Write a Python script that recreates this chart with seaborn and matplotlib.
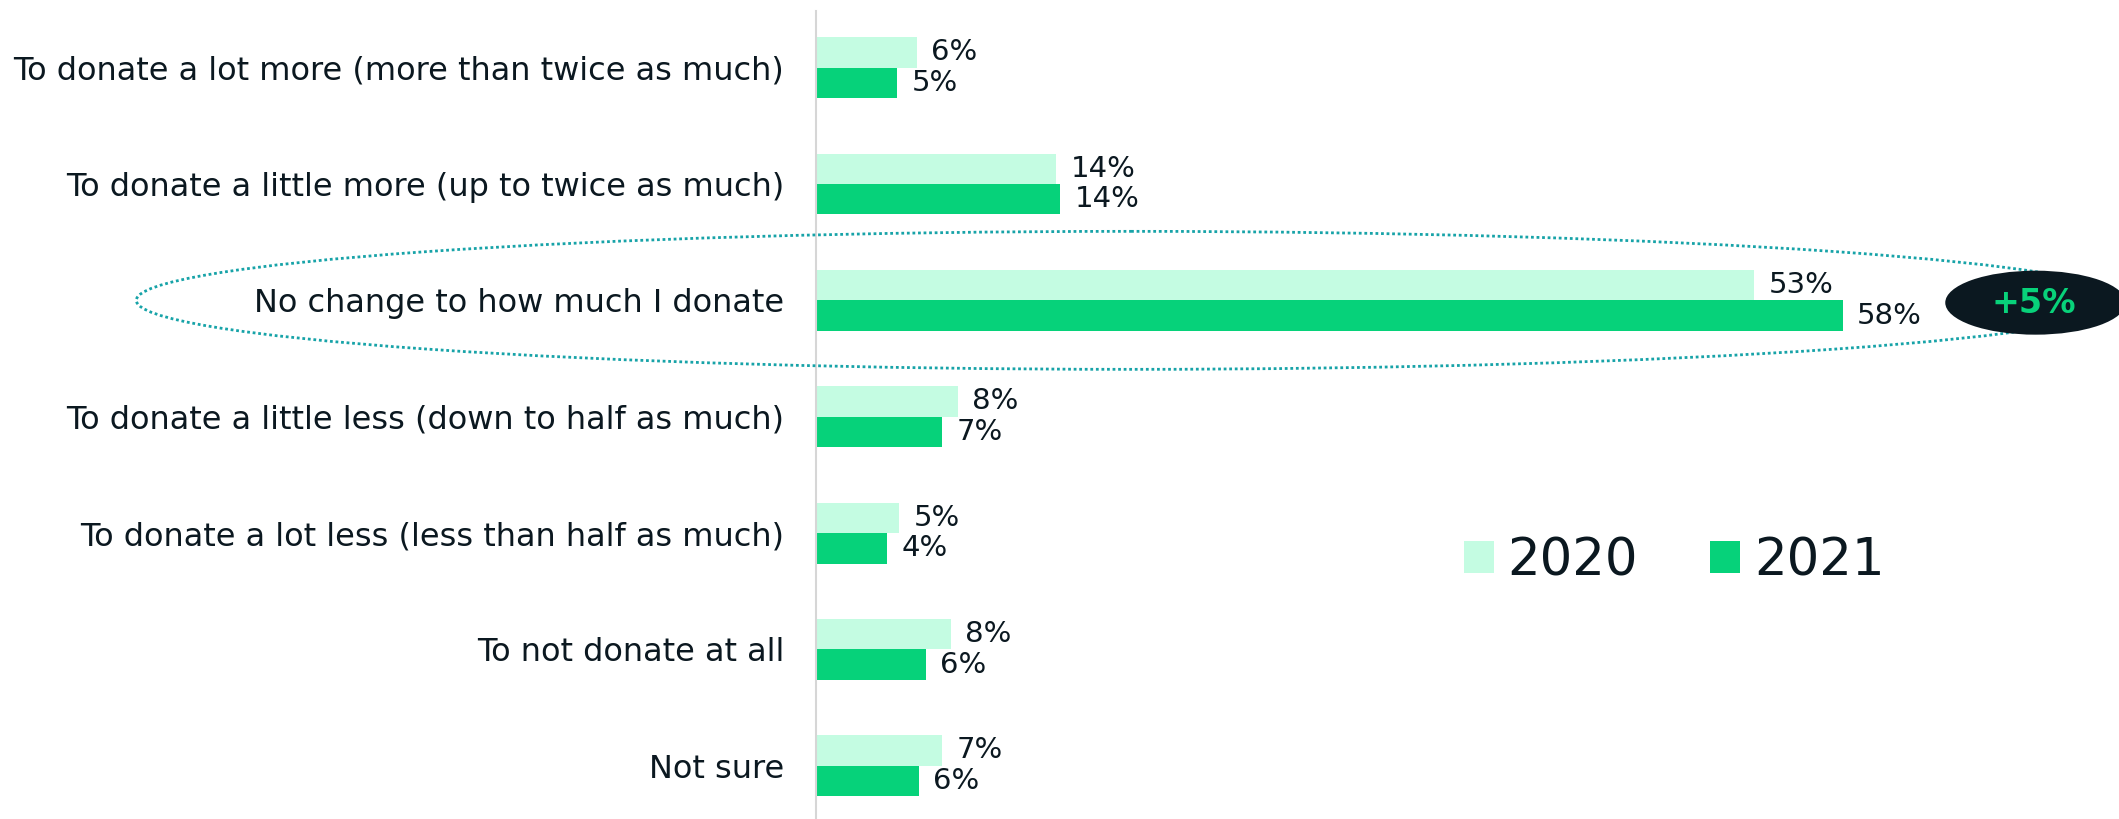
import matplotlib
matplotlib.use("Agg")
import matplotlib.pyplot as plt
from matplotlib.patches import Ellipse
import seaborn as sns
import pandas as pd

categories = [
    "To donate a lot more (more than twice as much)",
    "To donate a little more (up to twice as much)",
    "No change to how much I donate",
    "To donate a little less (down to half as much)",
    "To donate a lot less (less than half as much)",
    "To not donate at all",
    "Not sure",
]
values_2020 = [5.7, 13.55, 53.0, 8.0, 4.7, 7.6, 7.1]
values_2021 = [4.6, 13.8, 58.0, 7.1, 4.0, 6.2, 5.8]
years = ["2020", "2021"]
highlight_index = 2

colors = {"2020": "#C4FCE2", "2021": "#06D27A"}
text_color = "#0B1820"

df = pd.DataFrame({
    "category": categories * 2,
    "value": values_2020 + values_2021,
    "year": [years[0]] * len(categories) + [years[1]] * len(categories),
})

sns.set_theme(style="white")
plt.rcParams["font.family"] = ["DejaVu Sans"]

W, H = 2119, 819
fig = plt.figure(figsize=(W / 100, H / 100), dpi=100)
ax_left_px, ax_top_px = 816, 11
ax = fig.add_axes([ax_left_px / W, 0, (W - ax_left_px) / W, (H - ax_top_px) / H])

sns.barplot(data=df, y="category", x="value", hue="year", orient="h",
            palette=colors, width=0.524, saturation=1, linewidth=0,
            ax=ax, order=categories, hue_order=years)

px_per_unit = 17.7
ax.set_xlim(0, (W - ax_left_px) / px_per_unit)
ax.set_ylim(6.458, -0.487)

for cont in ax.containers:
    labels = [f"{round(b.get_width())}%" for b in cont]
    ax.bar_label(cont, labels=labels, padding=10.5, fontsize=21,
                 color=text_color)

ax.set_xlabel("")
ax.set_ylabel("")
ax.set_xticks([])
ax.tick_params(axis="y", length=0, pad=23, labelsize=23, labelcolor=text_color)
for s in ["top", "right", "bottom"]:
    ax.spines[s].set_visible(False)
ax.spines["left"].set_color("#D6D6D6")
ax.spines["left"].set_linewidth(1.5)

# legend
handles, labels = ax.get_legend_handles_labels()
ax.legend(handles, labels, ncol=2, frameon=False, fontsize=37,
          labelcolor=text_color,
          handlelength=0.58, handleheight=0.58, handletextpad=0.27,
          columnspacing=1.4, borderpad=0, borderaxespad=0,
          loc="center left", bbox_to_anchor=(1464 / W, 1 - 561 / H),
          bbox_transform=fig.transFigure)

# highlight ellipse around the "No change" row
ell = Ellipse((17.8, highlight_index), width=112.4, height=1.186,
              fill=False, edgecolor="#17A3A8", linewidth=2.0,
              linestyle=(0, (1.0, 1.0)), clip_on=False, zorder=5)
ax.add_patch(ell)

# badge with the change
diff = values_2021[highlight_index] - values_2020[highlight_index]
badge = Ellipse((68.9, highlight_index + 0.02), width=10.2, height=0.55,
                facecolor="#0B1820", edgecolor="none", clip_on=False, zorder=6)
ax.add_patch(badge)
ax.text(68.8, highlight_index + 0.03, f"+{round(diff)}%", ha="center", va="center",
        fontsize=24, fontweight="bold", color="#08D27A", zorder=7, clip_on=False)

fig.savefig("out.png", dpi=100)
